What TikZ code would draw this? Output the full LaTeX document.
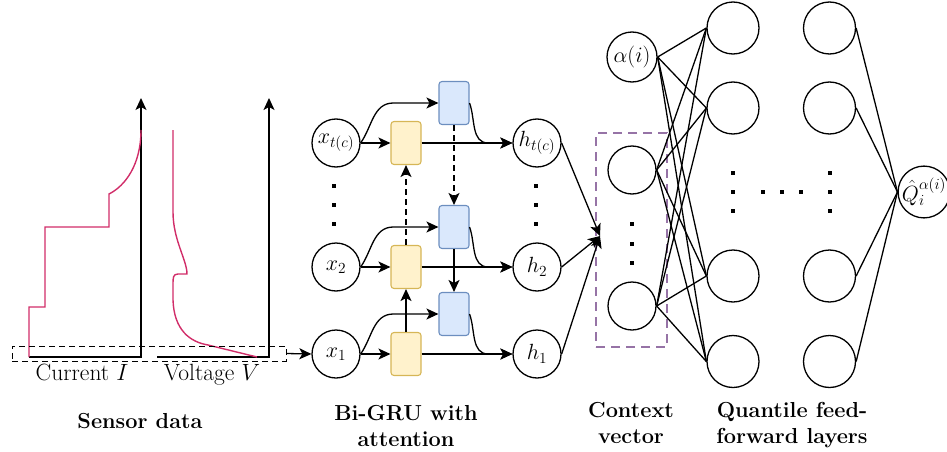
\RequirePackage{fix-cm}
\documentclass[tikz,border=0pt]{standalone}
\usetikzlibrary{arrows.meta,calc}
\definecolor{gyd}{HTML}{D6B656}
\definecolor{gyf}{HTML}{FFF2CC}
\definecolor{bld}{HTML}{6C8EBF}
\definecolor{blf}{HTML}{DAE8FC}
\definecolor{pur}{HTML}{9673A6}
\definecolor{sigc}{RGB}{209,45,105}
\begin{document}
\begin{tikzpicture}[x=1pt,y=-1pt,
  every node/.style={font=\fontsize{22}{26}\selectfont},
  neu/.style={circle,draw,line width=1.3pt,minimum size=48pt,inner sep=0pt},
  neuL/.style={neu,minimum size=52pt},
  gbox/.style={rectangle,rounded corners=3pt,draw=gyd,fill=gyf,line width=1.1pt,minimum width=30pt,minimum height=43pt,inner sep=0pt},
  abox/.style={gbox,draw=bld,fill=blf},
  ln/.style={line width=1.3pt},
  arr/.style={ln,-{Stealth[length=12pt,width=11pt,inset=3pt]}},
  axarr/.style={ln,-{Stealth[length=12pt,width=11pt,inset=3pt]}},
  dsh/.style={dash pattern=on 6pt off 4pt},
  sq/.style={rectangle,fill=black,minimum size=4pt,inner sep=0pt},
  sigl/.style={draw=sigc,line width=1.4pt},
  axlab/.style={font=\fontsize{23.5}{28}\selectfont,anchor=base},
  lab/.style={font=\fontsize{21.7}{26}\selectfont\bfseries,align=center,anchor=north,inner sep=0pt}
]
\useasboundingbox (0,0) rectangle (947,452);

% ---- sensor plots
\draw[axarr] (29,357) -- (141,357) -- (141,98);
\draw[sigl] (29,357) -- (29,307) -- (45,307) -- (45,227) -- (109,227) -- (109,194)
  .. controls (125,186) and (141,165) .. (141,130);
\draw[axarr] (157,357) -- (269,357) -- (269,98);
\draw[sigl] (173,130) -- (173,212) .. controls (173,240) and (187,260) .. (187,274)
  -- (178,274) .. controls (173,274) and (173,278) .. (173,284) -- (173,300)
  .. controls (174,330) and (190,342) .. (208,345) -- (257,357);
\node[draw,line width=0.9pt,dsh,minimum width=274pt,minimum height=15pt,inner sep=0pt] (sens) at (149,353.5) {};
\node[axlab] (curI) at (82,380) {Current $I$};
\node[axlab] (volV) at (212,380) {Voltage $V$};

% ---- Bi-GRU
\node[neu] (xt) at (336,143) {$x_{t(c)}$};
\node[neu] (x2) at (336,267) {$x_2$};
\node[neu] (x1) at (336,354) {$x_1$};
\node[gbox] (g3) at (406,143) {};
\node[gbox] (g2) at (406,267) {};
\node[gbox] (g1) at (406,354) {};
\node[abox] (a3) at (454,103) {};
\node[abox] (a2) at (454,227) {};
\node[abox] (a1) at (454,314) {};
\node[neu] (ht) at (537,143) {$h_{t(c)}$};
\node[neu] (h2) at (537,267) {$h_2$};
\node[neu] (h1) at (537,354) {$h_1$};

\draw[arr] (sens.east) -- (x1.west);
\foreach \x/\g/\a/\h in {xt/g3/a3/ht, x2/g2/a2/h2, x1/g1/a1/h1}{
  \draw[arr] (\x) -- (\g);
  \draw[arr] (\g) -- (\h);
  \draw[arr] (\x.east) to[out=55,in=180] ($(\a.west)+(-45,0)$) -- (\a.west);
  \draw[arr] (\a.east) to[out=-70,in=180] ($(\h.west)+(-24,0)$) -- (\h.west);
}
\draw[arr,dsh] (g2) -- (g3);
\draw[arr] (g1) -- (g2);
\draw[arr,dsh] (a3) -- (a2);
\draw[arr] (a2) -- (a1);
\foreach \yy [count=\i] in {186,205,224}{
  \node[sq] (dx\i) at (334,\yy) {};
  \node[sq] (dh\i) at (536,\yy) {};
}

% ---- context vector
\node[draw=pur,line width=2.2pt,dash pattern=on 9pt off 6pt,minimum width=71pt,minimum height=214pt,inner sep=0pt] (ctx) at (631.5,240) {};
\coordinate (conv) at (600,236);
\draw[arr] (ht.east) -- (conv);
\draw[arr] (h2.east) -- (conv);
\draw[arr] (h1.east) -- (conv);
\node[neu] (c1) at (632,170) {};
\node[neu] (c2) at (632,306) {};
\foreach \yy [count=\i] in {224,244,263}{ \node[sq] (dc\i) at (632,\yy) {}; }
\node[neu,minimum size=50pt] (al) at (632,57) {$\alpha(i)$};

% ---- feed-forward layers
\foreach \yy/\n in {28/a,108/b,276/c,361.5/d}{
  \node[neuL] (l1\n) at (733,\yy) {};
  \node[neuL] (l2\n) at (829.5,\yy) {};
}
\node[neu,minimum size=50pt] (q) at (924,192) {$\hat{Q}_i^{\alpha(i)}$};
\foreach \s in {al,c1,c2}{
  \foreach \t in {l1a,l1b,l1c,l1d}{ \draw[ln] (\s.east) -- (\t.west); }
}
\foreach \s in {l2a,l2b,l2c,l2d}{ \draw[ln] (\s.east) -- (q.west); }
\foreach \yy [count=\i] in {173,192,211}{
  \node[sq] (df\i) at (733,\yy) {};
  \node[sq] (dg\i) at (829.5,\yy) {};
}
\foreach \xx [count=\i] in {763,782,801}{ \node[sq] (dm\i) at (\xx,192) {}; }

% ---- section labels
\node[lab] (lsens) at (140,413) {Sensor data};
\node[lab] (lgru) at (406,405) {Bi-GRU with\\attention};
\node[lab] (lctx) at (631,402) {Context\\vector};
\node[lab] (lff) at (792,402) {Quantile feed-\\forward layers};
\end{tikzpicture}
\end{document}
